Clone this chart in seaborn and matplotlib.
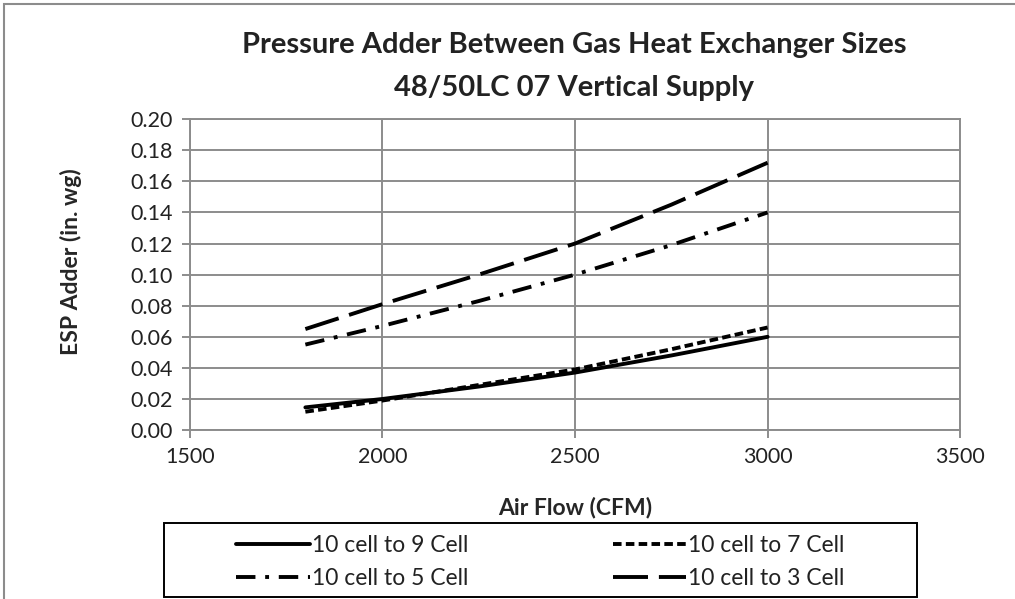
import numpy as np
import pandas as pd
import matplotlib
matplotlib.use("Agg")
import matplotlib.pyplot as plt
import seaborn as sns
from matplotlib.patches import Rectangle

# data
airflow = [1800, 2000, 2250, 2500, 2750, 3000]
cell9 = [0.0146, 0.020, 0.028, 0.037, 0.048, 0.060]
cell7 = [0.0118, 0.019, 0.029, 0.039, 0.052, 0.066]
cell5 = [0.055, 0.067, 0.083, 0.100, 0.119, 0.140]
cell3 = [0.065, 0.081, 0.100, 0.120, 0.145, 0.172]
labels = ["10 cell to 9 Cell", "10 cell to 7 Cell", "10 cell to 5 Cell", "10 cell to 3 Cell"]

sns.set_theme(style="white")
plt.rcParams['font.family'] = ['Lato', 'DejaVu Sans']

fig = plt.figure(figsize=(10.15, 5.99), dpi=100)
ax = fig.add_axes([0.187, 0.282, 0.759, 0.519])

styles = ["-", (0, (2.2, 1.1)), (0, (5, 2.5, 1, 2.5)), (0, (9, 2.8))]
series = [cell9, cell7, cell5, cell3]
for lab, vals, ls in zip(labels, series, styles):
    df = pd.DataFrame({"x": airflow, "y": vals})
    sns.lineplot(data=df, x="x", y="y", ax=ax, color="black", linewidth=2.8,
                 linestyle=ls, label=lab, legend=False)

yticks = np.arange(0, 0.201, 0.02)
ax.set_xlim(1500, 3500)
ax.set_ylim(0, 0.20)
ax.set_xticks([1500, 2000, 2500, 3000, 3500])
ax.set_yticks(yticks)
ax.set_yticklabels([f"{v:.2f}" for v in yticks])
ax.grid(True, color="#8c8c8c", linewidth=1.4)
for s in ax.spines.values():
    s.set_color("#8c8c8c")
    s.set_linewidth(1.4)
ax.tick_params(axis="both", direction="out", length=6, width=1.4, color="#8c8c8c",
               labelsize=15.5, labelcolor="#222222", bottom=True, left=True, pad=6)

ax.set_xlabel("Air Flow (CFM)", fontsize=16.5, fontweight="bold")
ax.set_ylabel("ESP Adder (in. wg)", fontsize=16.5, fontweight="bold")
ax.xaxis.set_label_coords(0.5, -0.215)
ax.yaxis.set_label_coords(-0.14, 0.543)
fig.text(0.566, 0.925, "Pressure Adder Between Gas Heat Exchanger Sizes",
         ha="center", va="center", fontsize=21, fontweight="bold", color="#222222")
fig.text(0.566, 0.853, "48/50LC 07 Vertical Supply",
         ha="center", va="center", fontsize=21, fontweight="bold", color="#222222")

handles, labs = ax.get_legend_handles_labels()
order = [0, 2, 1, 3]
leg = fig.legend([handles[i] for i in order], [labs[i] for i in order],
                 loc="center", bbox_to_anchor=(0.5325, 0.0618), ncol=2,
                 fontsize=16.5, frameon=False, handlelength=3.2, handletextpad=0.1,
                 labelspacing=0.5, columnspacing=6.3)
for t in leg.get_texts():
    t.set_color("#222222")

# legend box
fig.add_artist(Rectangle((0.1616, 0.0033), 0.742, 0.1235, transform=fig.transFigure,
                         fill=False, edgecolor="black", linewidth=1.4))
# chart border
fig.add_artist(Rectangle((0.004, -0.05), 1.1, 1.043, transform=fig.transFigure,
                         fill=False, edgecolor="#8c8c8c", linewidth=1.5, clip_on=False))

fig.savefig("out.png", dpi=100)
